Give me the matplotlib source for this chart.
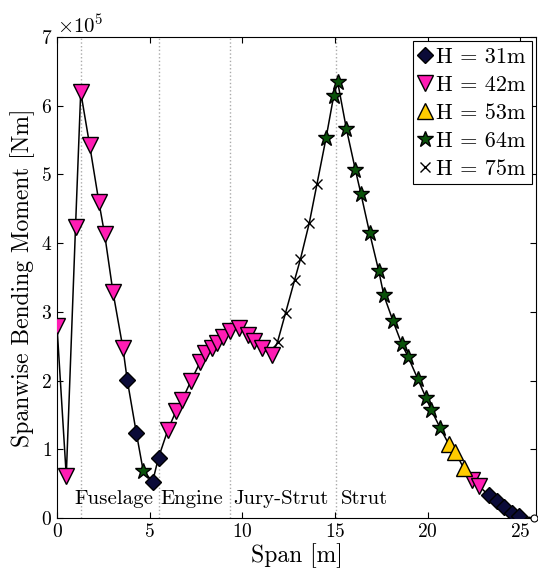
import numpy as np
import matplotlib
matplotlib.use('Agg')
import matplotlib.pyplot as plt

plt.rcParams['font.family'] = 'serif'
plt.rcParams['font.serif'] = ['cmr10']
plt.rcParams['mathtext.fontset'] = 'cm'
plt.rcParams['axes.formatter.use_mathtext'] = True
plt.rcParams['axes.unicode_minus'] = False

# data, moment in units of 1e5 Nm
h31_x = [3.79, 4.28, 5.16, 5.48, 23.29, 23.74, 24.15, 24.58, 24.94]
h31_y = [2.01, 1.24, 0.53, 0.88, 0.335, 0.25, 0.165, 0.08, 0.03]

h42_x = [0.0, 0.5, 1.0, 1.28, 1.76, 2.26, 2.57, 3.02, 3.56,
         5.98, 6.43, 6.76, 7.22, 7.73, 8.0, 8.34, 8.64, 8.95, 9.33,
         9.81, 10.31, 10.62, 11.07, 11.58, 22.39, 22.75]
h42_y = [2.79, 0.61, 4.24, 6.2, 5.43, 4.6, 4.13, 3.29, 2.47,
         1.28, 1.56, 1.72, 1.99, 2.27, 2.40, 2.47, 2.55, 2.64, 2.72,
         2.76, 2.66, 2.58, 2.47, 2.37, 0.56, 0.47]

h53_x = [21.13, 21.49, 21.94]
h53_y = [1.08, 0.96, 0.73]

h64_x = [4.65, 14.52, 14.93, 15.15, 15.62, 16.1, 16.4, 16.87, 17.36,
         17.64, 18.13, 18.61, 18.94, 19.46, 19.93, 20.2, 20.68]
h64_y = [0.69, 5.53, 6.14, 6.34, 5.66, 5.07, 4.72, 4.15, 3.60,
         3.24, 2.87, 2.53, 2.35, 2.03, 1.74, 1.57, 1.31]

h75_x = [11.9, 12.34, 12.82, 13.14, 13.62, 14.03]
h75_y = [2.56, 2.99, 3.46, 3.77, 4.30, 4.86]

tip_x = [25.72]
tip_y = [0.0]

section_x = [1.28, 5.5, 9.33, 15.06]
section_names = ['Fuselage', 'Engine', 'Jury-Strut', 'Strut']
section_text_x = [0.95, 5.6, 9.5, 15.3]

groups = [
    (h31_x, h31_y, 'D', '#0b0b38', 8, 'H = 31m'),
    (h42_x, h42_y, 'v', '#ff1cb4', 11, 'H = 42m'),
    (h53_x, h53_y, '^', '#ffcc00', 11, 'H = 53m'),
    (h64_x, h64_y, '*', '#0a520a', 12, 'H = 64m'),
    (h75_x, h75_y, 'x', 'k', 7, 'H = 75m'),
]

fig = plt.figure(figsize=(5.38, 5.79), dpi=100)
ax = fig.add_axes([57/538, 1-518/579, (536-57)/538, (518-37)/579])

# one black line through all points, sorted along the span
all_x = np.concatenate([g[0] for g in groups] + [tip_x])
all_y = np.concatenate([g[1] for g in groups] + [tip_y]) * 1e5
order = np.argsort(all_x)
ax.plot(all_x[order], all_y[order], color='k', lw=1.1, zorder=2)

for sx in section_x:
    ax.axvline(sx, color='#aaaaaa', ls=':', lw=1.0, zorder=1)

for gx, gy, m, c, ms, lab in groups:
    if m == 'x':
        ax.plot(gx, np.array(gy)*1e5, ls='none', marker=m, ms=ms, color='k',
                mew=1.0, label=lab, zorder=3)
    else:
        ax.plot(gx, np.array(gy)*1e5, ls='none', marker=m, ms=ms, mfc=c,
                mec='k', mew=1.0, label=lab, zorder=3)

ax.plot(tip_x, np.array(tip_y)*1e5, ls='none', marker='o', ms=5, mfc='w',
        mec='k', mew=0.8, zorder=3, clip_on=False)

for tx, name in zip(section_text_x, section_names):
    ax.text(tx, 0.2e5, name, fontsize=15, ha='left', va='baseline')

ax.set_xlim(0, 25.85)
ax.set_ylim(0, 7e5)
ax.set_xticks([0, 5, 10, 15, 20, 25])
ax.set_yticks(np.arange(0, 8)*1e5)
ax.ticklabel_format(style='sci', axis='y', scilimits=(0, 0))
ax.yaxis.get_offset_text().set_fontsize(15)
ax.tick_params(direction='in', top=True, right=True, labelsize=14, length=4)
ax.set_xlabel('Span [m]', fontsize=17, labelpad=2)
ax.set_ylabel('Spanwise Bending Moment [Nm]', fontsize=17, labelpad=4)

leg = ax.legend(loc='upper right', fontsize=16, fancybox=False, edgecolor='k',
                framealpha=1, borderaxespad=0.2, handlelength=0.6,
                handletextpad=0.2, labelspacing=0.38, borderpad=0.25)
leg.get_frame().set_linewidth(0.8)

fig.savefig('out.png', dpi=100)
